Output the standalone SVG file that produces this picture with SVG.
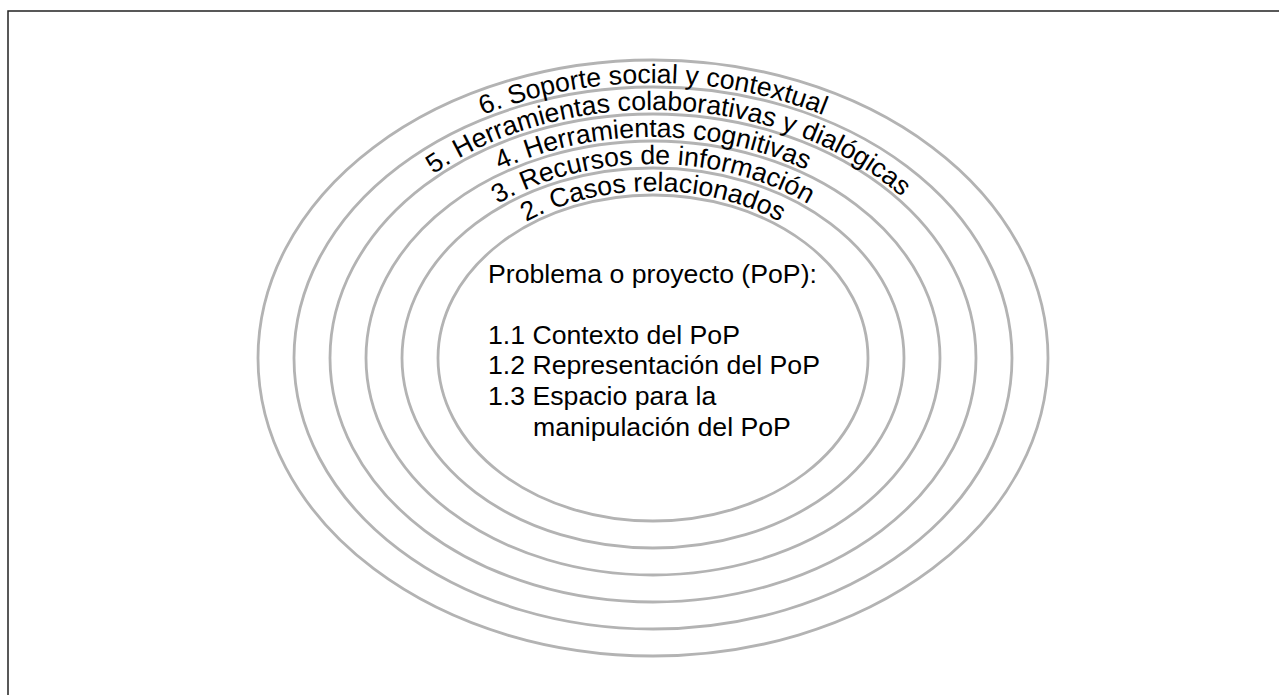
<svg xmlns="http://www.w3.org/2000/svg" xmlns:xlink="http://www.w3.org/1999/xlink" width="1279" height="695" viewBox="0 0 1279 695">
  <style>
    .ring { fill: none; stroke: #b3b3b3; stroke-width: 2.8; }
    .lbl { font-family: "Liberation Sans", Arial, sans-serif; font-size: 26.67px; fill: #000; }
    .arc { font-family: "Liberation Sans", Arial, sans-serif; font-size: 26.67px; fill: #000; }
    .frame { fill: none; stroke: #222; stroke-width: 1.5; }
  </style>
  <defs>
    <!-- baseline arcs over the top of each band, left to right -->
    <path id="arc2" d="M 434 358 A 219 167 0 0 1 872 358"/>
    <path id="arc3" d="M 398 358 A 255 194 0 0 1 908 358"/>
    <path id="arc4" d="M 362 358 A 291 221 0 0 1 944 358"/>
    <path id="arc5" d="M 326 358 A 327 248 0 0 1 980 358"/>
    <path id="arc6" d="M 290 358 A 363 275 0 0 1 1016 358"/>
  </defs>

  <rect class="frame" x="8" y="11" width="1300" height="720"/>

  <g id="ring6"><ellipse class="ring" cx="653" cy="358" rx="395" ry="298"/></g>
  <g id="ring5"><ellipse class="ring" cx="653" cy="358" rx="359" ry="271"/></g>
  <g id="ring4"><ellipse class="ring" cx="653" cy="358" rx="323" ry="244"/></g>
  <g id="ring3"><ellipse class="ring" cx="653" cy="358" rx="287" ry="217"/></g>
  <g id="ring2"><ellipse class="ring" cx="653" cy="358" rx="251" ry="190"/></g>
  <g id="ring1"><ellipse class="ring" cx="653" cy="358" rx="215" ry="163"/></g>

  <g id="label2"><text class="arc" text-anchor="middle"><textPath xlink:href="#arc2" href="#arc2" startOffset="50%">2. Casos relacionados</textPath></text></g>
  <g id="label3"><text class="arc" text-anchor="middle"><textPath xlink:href="#arc3" href="#arc3" startOffset="50%">3. Recursos de información</textPath></text></g>
  <g id="label4"><text class="arc" text-anchor="middle"><textPath xlink:href="#arc4" href="#arc4" startOffset="50%">4. Herramientas cognitivas</textPath></text></g>
  <g id="label5"><text class="arc" text-anchor="middle"><textPath xlink:href="#arc5" href="#arc5" startOffset="472">5. Herramientas colaborativas y dialógicas</textPath></text></g>
  <g id="label6"><text class="arc" text-anchor="middle"><textPath xlink:href="#arc6" href="#arc6" startOffset="50%">6. Soporte social y contextual</textPath></text></g>

  <g id="core">
    <text class="lbl" x="488" y="282.5">Problema o proyecto (PoP):</text>
    <text class="lbl" x="488" y="343.7">1.1 Contexto del PoP</text>
    <text class="lbl" x="488" y="374.3">1.2 Representación del PoP</text>
    <text class="lbl" x="488" y="404.9">1.3 Espacio para la</text>
    <text class="lbl" x="533" y="435.5">manipulación del PoP</text>
  </g>
</svg>
